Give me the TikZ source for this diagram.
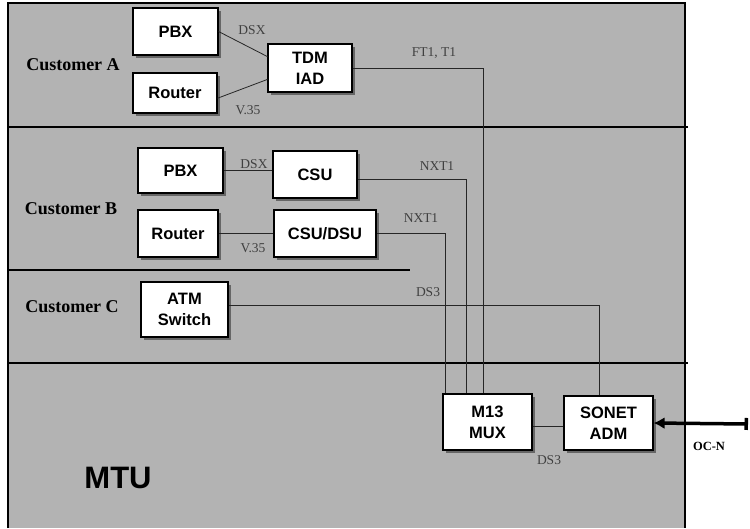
\documentclass[tikz,border=0pt]{standalone}
\usepackage{fontspec}
\setmainfont{Liberation Serif}
\setsansfont{Liberation Sans}
\usetikzlibrary{arrows.meta,calc,shadows}
\definecolor{mtugray}{RGB}{179,179,179}

\begin{document}
\begin{tikzpicture}[x=1pt,y=-1pt,
      box/.style={draw,line width=1.1pt,fill=white,align=center,inner sep=0pt,
        font=\sffamily\bfseries\fontsize{16.5}{21}\selectfont,
        drop shadow={shadow xshift=2.5pt,shadow yshift=-2.5pt,fill=black!60,opacity=1}},
      custlabel/.style={font=\rmfamily\bfseries\fontsize{18}{20}\selectfont},
      linklabel/.style={text=black!75,font=\rmfamily\fontsize{13.5}{15}\selectfont},
      link/.style={draw=black!85,line width=.8pt},
      frame/.style={line width=1.2pt}]
      \useasboundingbox (0,0) rectangle (750,528);
      \fill[mtugray] (8,3) rectangle (685,528);
      \draw[frame] (8,528) |- (685,3) -- (685,528);
      \draw[frame] (8,127) -- (688,127);
      \draw[frame] (8,270) -- (410,270);
      \draw[frame] (8,363) -- (688,363);
      \node[custlabel] (custA) at (73,65) {Customer A};
      \node[custlabel] (custB) at (71,209) {Customer B};
      \node[custlabel] (custC) at (72,307) {Customer C};
      \node[font=\sffamily\bfseries\fontsize{31}{32}\selectfont] (mtu) at (118,478) {MTU};
      \node[box,minimum width=85,minimum height=47] (pbxA) at (175.5,31.5) {PBX};
      \node[box,minimum width=84,minimum height=40] (routerA) at (175,93) {Router};
      \node[box,minimum width=84,minimum height=48] (iad) at (310,68) {TDM\\IAD};
      \node[box,minimum width=85,minimum height=45] (pbxB) at (180.5,170.5) {PBX};
      \node[box,minimum width=84,minimum height=47] (csu) at (315,174.5) {CSU};
      \node[box,minimum width=80,minimum height=47] (routerB) at (178,233.5) {Router};
      \node[box,minimum width=102,minimum height=47] (csudsu) at (325,233.5) {CSU/DSU};
      \node[box,minimum width=87,minimum height=55] (atm) at (184.5,309.5) {ATM\\Switch};
      \node[box,minimum width=89,minimum height=56] (mux) at (487.5,422) {M13\\MUX};
      \node[box,minimum width=89,minimum height=54] (adm) at (608.5,423) {SONET\\ADM};
      \coordinate (ocn) at (748,424);
      \draw[link] (pbxA.east) -- (iad.165);
      \draw[link] (routerA.-7) -- (iad.195);
      \draw[link] (iad.east) -| ($(mux.north west)+(41,0)$);
      \draw[link] (pbxB.east) -- (pbxB.east -| csu.west);
      \draw[link] (csu.-7) -| ($(mux.north west)+(24,0)$);
      \draw[link] (routerB.east) -- (csudsu.west);
      \draw[link] (csudsu.east) -| ($(mux.north west)+(3,0)$);
      \draw[link] (atm.5) -| ($(adm.north)+(-9.5,0)$);
      \draw[link] ($(mux.east)+(0,4)$) -- ($(mux.east -| adm.west)+(0,4)$);
      \draw[line width=3.5pt,{Latex[length=11pt,width=12pt]}-{Bar[width=12pt]}] (adm.east) -- (ocn);
      \node[linklabel] (dsxA) at (252,30) {DSX};
      \node[linklabel] (vA) at (248,110) {V.35};
      \node[linklabel] (ft1) at (434,53) {FT1, T1};
      \node[linklabel] (dsxB) at (254,164) {DSX};
      \node[linklabel] (vB) at (253,248) {V.35};
      \node[linklabel] (nxtA) at (437,166) {NXT1};
      \node[linklabel] (nxtB) at (421,218) {NXT1};
      \node[linklabel] (ds3C) at (428,292) {DS3};
      \node[linklabel] (ds3M) at (549,460) {DS3};
      \node[font=\rmfamily\bfseries\fontsize{12.5}{14}\selectfont] (ocnlabel) at (709,446) {OC-N};
    \end{tikzpicture}
\end{document}
